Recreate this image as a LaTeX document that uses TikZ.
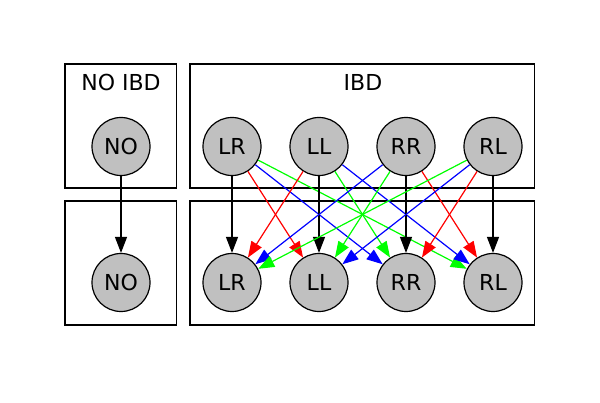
\documentclass[tikz,border=0pt]{standalone}
\usepackage{fontspec}
\setmainfont{DejaVu Sans}
\usetikzlibrary{arrows.meta}
\begin{document}
\begin{tikzpicture}[x=1pt,y=-1pt,
  st/.style={circle,draw=black,line width=1.2pt,fill={rgb,255:red,192;green,192;blue,192},minimum size=58pt,inner sep=0pt,font=\fontsize{22}{26}\selectfont},
  clus/.style={draw=black,line width=1.2pt},
  lbl/.style={font=\fontsize{22}{26}\selectfont},
  ed/.style={line width=1.2pt,-{Triangle[length=16pt,width=12pt]}}]
\useasboundingbox (0,0) rectangle (600,403);
\draw[clus] (65,64) rectangle (176.5,188);
\draw[clus] (190,64) rectangle (534.5,188);
\draw[clus] (65,201) rectangle (176.5,325);
\draw[clus] (190,201) rectangle (534.5,325);
\node[lbl,inner sep=0pt] (t1) at (121,82) {NO IBD};
\node[lbl,inner sep=0pt] (t2) at (363,82) {IBD};
\node[st] (tNO) at (121,146.5) {NO};
\node[st] (tLR) at (232,146.5) {LR};
\node[st] (tLL) at (319,146.5) {LL};
\node[st] (tRR) at (406,146.5) {RR};
\node[st] (tRL) at (493,146.5) {RL};
\node[st] (bNO) at (121,282.5) {NO};
\node[st] (bLR) at (232,282.5) {LR};
\node[st] (bLL) at (319,282.5) {LL};
\node[st] (bRR) at (406,282.5) {RR};
\node[st] (bRL) at (493,282.5) {RL};
\draw[ed,black] (tNO) -- (bNO);
\draw[ed,black] (tLR) -- (bLR);
\draw[ed,red] (tLR) -- (bLL);
\draw[ed,blue] (tLR) -- (bRR);
\draw[ed,green] (tLR) -- (bRL);
\draw[ed,red] (tLL) -- (bLR);
\draw[ed,black] (tLL) -- (bLL);
\draw[ed,green] (tLL) -- (bRR);
\draw[ed,blue] (tLL) -- (bRL);
\draw[ed,blue] (tRR) -- (bLR);
\draw[ed,green] (tRR) -- (bLL);
\draw[ed,black] (tRR) -- (bRR);
\draw[ed,red] (tRR) -- (bRL);
\draw[ed,green] (tRL) -- (bLR);
\draw[ed,blue] (tRL) -- (bLL);
\draw[ed,red] (tRL) -- (bRR);
\draw[ed,black] (tRL) -- (bRL);
\end{tikzpicture}
\end{document}
